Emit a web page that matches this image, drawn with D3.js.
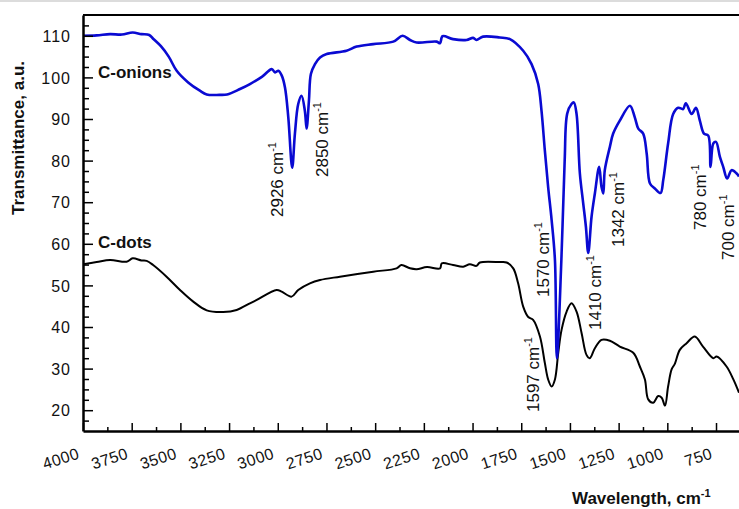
<!DOCTYPE html>
<html>
<head>
<meta charset="utf-8">
<script src="https://d3js.org/d3.v7.min.js"></script>
<style>
  body { margin: 0; background: #fff; }
  text { font-family: "Liberation Sans", Arial, sans-serif; fill: #111; }
</style>
</head>
<body>
<script>
// wavenumbers (cm-1) and transmittance
var onionsWn = [4000,3930,3861,3800,3745,3700,3660,3640,3600,3560,3519,3460,3400,3365,3300,3260,3194,3143,3080,3031,3014,2997,2980,2963,2946,2926,2912,2895,2878,2861,2852,2840,2830,2809,2783,2749,2647,2595,2510,2407,2359,2321,2287,2184,2167,2154,2100,2031,1997,1980,1946,1860,1808,1740,1697,1663,1646,1629,1612,1594,1577,1567,1544,1527,1514,1492,1480,1466,1449,1432,1418,1406,1389,1372,1350,1338,1329,1321,1295,1278,1244,1192,1167,1149,1124,1106,1089,1064,1035,1021,996,970,944,919,905,875,853,833,812,790,778,764,750,730,713,693,670,644,632];
var onionsT = [110.0,110.1,110.4,110.3,110.8,110.4,110.2,109.3,107.5,105.0,101.6,98.8,96.8,95.9,95.8,95.9,97.2,98.4,100.2,102.0,101.2,101.6,100.5,97.6,90.4,78.3,86.5,93.6,95.6,92.0,87.7,94.4,100.8,103.2,104.8,105.6,106.4,107.4,108.0,108.6,110.0,109.0,108.4,108.6,108.2,109.9,109.2,109.0,109.5,109.0,109.8,109.6,109.2,106.4,103.2,98.4,92.0,82.5,73.7,65.7,56.1,32.5,56.1,80.0,91.3,93.6,94.0,91.2,76.9,69.8,64.1,57.8,66.5,72.1,78.5,73.7,72.1,77.7,83.3,86.5,89.6,93.2,90.4,87.7,86.5,81.7,74.5,73.3,72.2,75.3,84.1,91.2,92.7,92.4,93.8,91.2,92.7,89.6,86.5,86.0,78.5,84.1,84.5,80.9,78.5,75.7,77.7,76.9,76.2];

var dotsWn = [4000,3930,3861,3776,3745,3700,3673,3640,3571,3502,3434,3365,3280,3211,3143,3108,3006,2980,2929,2895,2835,2783,2681,2510,2390,2365,2321,2287,2234,2167,2158,2100,2048,2014,1980,1962,1860,1825,1791,1766,1740,1714,1689,1654,1629,1612,1594,1577,1560,1543,1517,1492,1466,1440,1415,1398,1372,1338,1295,1244,1175,1141,1115,1098,1072,1047,1029,1012,996,978,961,936,901,859,817,764,747,696,661,632];
var dotsT = [55.1,55.6,56.1,55.7,56.5,56.0,55.9,54.9,52.1,48.9,46.1,44.0,43.6,44.1,45.7,46.5,48.9,48.5,47.3,48.9,50.5,51.3,52.1,53.3,54.1,54.9,54.1,53.9,54.4,54.1,55.3,54.9,54.5,55.1,54.7,55.5,55.6,55.5,54.1,50.5,44.9,42.4,41.7,37.7,31.4,27.4,25.7,27.4,33.8,39.3,43.7,45.7,43.7,38.5,33.3,32.5,34.9,36.9,36.7,35.3,33.8,30.5,27.4,22.6,21.8,23.4,23.0,21.1,25.7,29.8,31.2,34.5,36.1,37.7,35.3,32.5,32.9,30.5,27.4,24.2];

var xTicks = [4000,3750,3500,3250,3000,2750,2500,2250,2000,1750,1500,1250,1000,750];
var yTicks = [20,30,40,50,60,70,80,90,100,110];

var peakLabels = ["2926", "2850", "1570", "1410", "1342", "780", "700", "1597"];
var peakAt = [[283,217],[328,177],[549,297],[601,330],[624,247],[706,230],[734,260],[539,412]];

var W = 739, H = 509;
var mLeft = 83, mRight = 739, mTop = 15, mBottom = 431;

var svg = d3.select("body").append("svg").attr("width", W).attr("height", H);

svg.append("line").attr("x1",0).attr("x2",W).attr("y1",1).attr("y2",1)
   .attr("stroke","#dcdcdc").attr("stroke-width",2);

var x = d3.scaleLinear().domain([4000, 632]).range([mLeft, mRight]);
var y = d3.scaleLinear().domain([15, 115]).range([mBottom, mTop]);

svg.append("clipPath").attr("id","plot")
   .append("rect").attr("x",mLeft).attr("y",mTop).attr("width",mRight-mLeft).attr("height",mBottom-mTop);

var line = d3.line()
  .x(function(d){ return x(d[0]); })
  .y(function(d){ return y(d[1]); })
  .curve(d3.curveCatmullRom.alpha(0.5));

var g = svg.append("g").attr("clip-path","url(#plot)");
g.append("path").datum(d3.zip(dotsWn, dotsT))
  .attr("d", line).attr("fill","none").attr("stroke","#000").attr("stroke-width",2);
g.append("path").datum(d3.zip(onionsWn, onionsT))
  .attr("d", line).attr("fill","none").attr("stroke","#0a0ad2").attr("stroke-width",2.6);

// top frame
svg.append("line").attr("x1",mLeft).attr("x2",mRight).attr("y1",mTop).attr("y2",mTop)
   .attr("stroke","#000").attr("stroke-width",2);

// x axis, ticks pointing inward
var minorX = d3.range(3875, 700, -250);
svg.append("g").attr("transform","translate(0,"+mBottom+")")
  .call(d3.axisBottom(x).tickValues(minorX).tickSize(-4).tickFormat(""))
  .call(function(s){ s.select(".domain").remove(); s.selectAll("line").attr("stroke-width",1.5); });

var xa = svg.append("g").attr("transform","translate(0,"+mBottom+")")
  .call(d3.axisBottom(x).tickValues(xTicks).tickSize(-8).tickSizeOuter(0).tickFormat(d3.format("d")));
xa.select(".domain").attr("stroke-width",2.5);
xa.selectAll(".tick line").attr("stroke-width",1.5);
xa.selectAll(".tick text")
  .attr("x",-3).attr("y",27).attr("dy",0)
  .attr("text-anchor","end")
  .attr("transform","rotate(-18,-3,27)")
  .style("font-size","16px").style("letter-spacing","0.5px");

// y axis
var minorY = d3.range(17.5, 113, 2.5).filter(function(v){ return v % 10 !== 0; });
svg.append("g").attr("transform","translate("+mLeft+",0)")
  .call(d3.axisLeft(y).tickValues(minorY).tickSize(-6).tickFormat(""))
  .call(function(s){ s.select(".domain").remove(); s.selectAll("line").attr("stroke-width",1.5); });

var ya = svg.append("g").attr("transform","translate("+mLeft+",0)")
  .call(d3.axisLeft(y).tickValues(yTicks).tickSize(-10).tickSizeOuter(0).tickPadding(12));
ya.select(".domain").attr("stroke-width",2.5);
ya.selectAll(".tick line").attr("stroke-width",1.5);
ya.selectAll(".tick text").style("font-size","16px").style("letter-spacing","1px").attr("dy","0.36em");

// axis titles
svg.append("text").attr("transform","translate(24,138) rotate(-90)")
  .attr("text-anchor","middle").style("font-size","17px").style("font-weight","bold")
  .text("Transmittance, a.u.");

var xt = svg.append("text").attr("x",572).attr("y",504)
  .style("font-size","17px").style("font-weight","bold");
xt.append("tspan").text("Wavelength, cm");
xt.append("tspan").attr("dy",-7).style("font-size","11px").text("-1");

// series names
svg.append("text").attr("x",98).attr("y",78).style("font-size","17px").style("font-weight","bold").text("C-onions");
svg.append("text").attr("x",98).attr("y",248).style("font-size","17px").style("font-weight","bold").text("C-dots");

// peak annotations
peakLabels.forEach(function(lbl, i){
  var p = peakAt[i];
  var t = svg.append("text")
    .attr("transform","translate("+p[0]+","+p[1]+") rotate(-90)")
    .style("font-size","17px");
  t.append("tspan").text(lbl + " cm");
  t.append("tspan").attr("dy",-7).style("font-size","11px").text("-1");
});
</script>
</body>
</html>
